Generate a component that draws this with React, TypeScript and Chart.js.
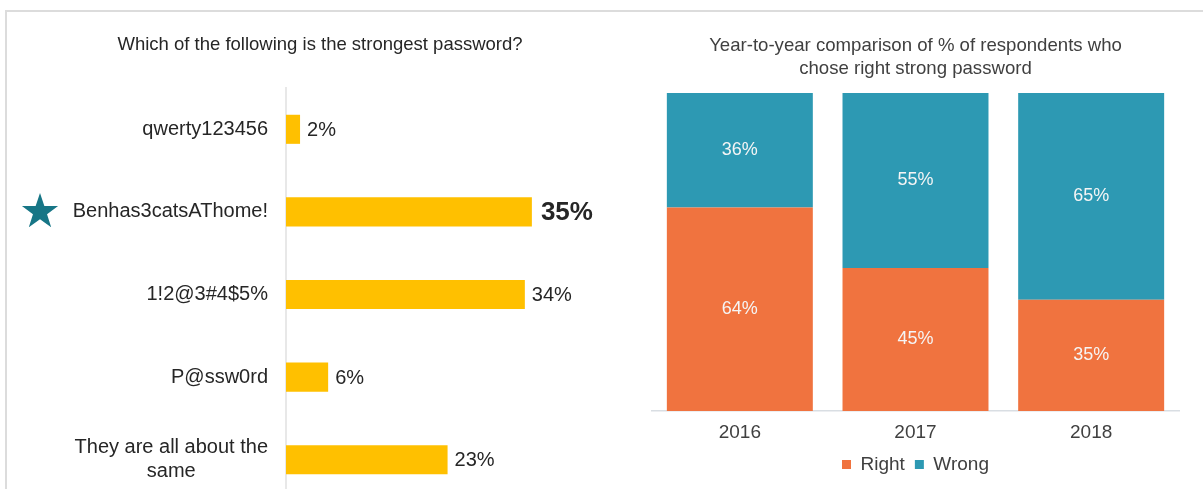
import React, { useEffect, useRef } from "react";
import { Chart, registerables } from "chart.js";

Chart.register(...registerables);

// ---------- data ----------
const leftTitle = "Which of the following is the strongest password?";
const passwordOptions: (string | string[])[] = [
  "qwerty123456",
  "Benhas3catsAThome!",
  "1!2@3#4$5%",
  "P@ssw0rd",
  ["They are all about the", "same"],
];
const passwordShares = [2, 35, 34, 6, 23];
const correctIndex = 1;

const rightTitle = ["Year-to-year comparison of % of respondents who", "chose right strong password"];
const years = ["2016", "2017", "2018"];
const rightShares = [64, 45, 35];
const wrongShares = [36, 55, 65];
const seriesNames = ["Right", "Wrong"];

// ---------- styles ----------
const FONT = '"Liberation Sans", Arial, Helvetica, sans-serif';
const YELLOW = "#FFC000";
const ORANGE = "#F0733F";
const TEAL = "#2D99B3";
const STAR = "#177686";
const DARK = "#262626";
const GREY_TEXT = "#404040";

function drawStar(ctx: CanvasRenderingContext2D, cx: number, cy: number, R: number, r: number) {
  ctx.beginPath();
  for (let i = 0; i < 10; i++) {
    const rad = i % 2 === 0 ? R : r;
    const a = -Math.PI / 2 + (i * Math.PI) / 5;
    const x = cx + rad * Math.cos(a);
    const y = cy + rad * Math.sin(a);
    if (i === 0) ctx.moveTo(x, y);
    else ctx.lineTo(x, y);
  }
  ctx.closePath();
  ctx.fill();
}

const leftLabelsPlugin = {
  id: "leftLabels",
  afterDraw(chart: any) {
    const { ctx, chartArea } = chart;
    const yScale = chart.scales.y;
    const meta = chart.getDatasetMeta(0);
    ctx.save();
    ctx.fillStyle = DARK;
    ctx.textBaseline = "middle";
    ctx.font = `20px ${FONT}`;
    const right = chartArea.left - 18;
    passwordOptions.forEach((lab, i) => {
      const y = yScale.getPixelForValue(i);
      if (Array.isArray(lab)) {
        const w = Math.max(...lab.map((l) => ctx.measureText(l).width));
        ctx.textAlign = "center";
        lab.forEach((l, j) => ctx.fillText(l, right - w / 2, y + (j - (lab.length - 1) / 2) * 24));
      } else {
        ctx.textAlign = "right";
        ctx.fillText(lab, right, y);
      }
    });
    // star marking the correct answer
    ctx.fillStyle = STAR;
    drawStar(ctx, 40, yScale.getPixelForValue(correctIndex), 19, 7.4);
    // value labels
    ctx.fillStyle = DARK;
    ctx.textAlign = "left";
    meta.data.forEach((bar: any, i: number) => {
      const strong = i === correctIndex;
      ctx.font = strong ? `bold 26px ${FONT}` : `20px ${FONT}`;
      ctx.fillText(passwordShares[i] + "%", bar.x + (strong ? 9 : 7), bar.y + 1);
    });
    ctx.restore();
  },
};

const stackLabelsPlugin = {
  id: "stackLabels",
  afterDatasetsDraw(chart: any) {
    const { ctx } = chart;
    ctx.save();
    ctx.fillStyle = "#f5f5f5";
    ctx.font = `18px ${FONT}`;
    ctx.textAlign = "center";
    ctx.textBaseline = "middle";
    chart.data.datasets.forEach((ds: any, di: number) => {
      const meta = chart.getDatasetMeta(di);
      meta.data.forEach((bar: any, i: number) => {
        const cy = (bar.y + bar.base) / 2;
        ctx.fillText(ds.data[i] + "%", bar.x, cy);
      });
    });
    ctx.restore();
  },
};

export default function App() {
  const leftRef = useRef<HTMLCanvasElement | null>(null);
  const rightRef = useRef<HTMLCanvasElement | null>(null);

  useEffect(() => {
    const left = new Chart(leftRef.current as HTMLCanvasElement, {
      type: "bar",
      data: {
        labels: passwordOptions as any,
        datasets: [
          {
            data: passwordShares,
            backgroundColor: YELLOW,
            borderWidth: 0,
            barPercentage: 0.352,
            categoryPercentage: 1,
          },
        ],
      },
      options: {
        indexAxis: "y",
        responsive: false,
        animation: false,
        layout: { padding: { left: 73, right: 73, top: 0, bottom: 0 } },
        plugins: {
          legend: { display: false },
          tooltip: { enabled: false },
          title: {
            display: true,
            text: leftTitle,
            color: DARK,
            font: { family: FONT, size: 18.5, weight: "normal", lineHeight: 1.2 },
            padding: { top: 34, bottom: 31.8 },
          },
        },
        scales: {
          x: { display: false, min: 0, max: 40 },
          y: {
            afterFit: (s: any) => {
              s.width = 213;
            },
            ticks: { display: false },
            grid: { display: false, drawTicks: false },
            border: { display: true, color: "#e8e8e8", width: 2 },
          },
        },
      } as any,
      plugins: [leftLabelsPlugin],
    });

    const right = new Chart(rightRef.current as HTMLCanvasElement, {
      type: "bar",
      data: {
        labels: years,
        datasets: [
          {
            label: seriesNames[0],
            data: rightShares,
            backgroundColor: ORANGE,
            borderWidth: 0,
            barPercentage: 0.831,
            categoryPercentage: 1,
          },
          {
            label: seriesNames[1],
            data: wrongShares,
            backgroundColor: TEAL,
            borderWidth: 0,
            barPercentage: 0.831,
            categoryPercentage: 1,
          },
        ],
      },
      options: {
        responsive: false,
        animation: false,
        layout: { padding: { left: 12, right: 11, top: 0, bottom: 5 } },
        plugins: {
          tooltip: { enabled: false },
          title: {
            display: true,
            text: rightTitle,
            color: GREY_TEXT,
            font: { family: FONT, size: 18.6, weight: "normal", lineHeight: 1.2 },
            padding: { top: 35, bottom: 13.4 },
          },
          legend: {
            position: "bottom",
            labels: {
              boxWidth: 9,
              boxHeight: 9,
              color: GREY_TEXT,
              font: { family: FONT, size: 19 },
              padding: 10,
            },
          },
        },
        scales: {
          x: {
            stacked: true,
            grid: { display: false, drawTicks: false },
            border: { display: true, color: "#d9dee3", width: 1.5 },
            ticks: { color: GREY_TEXT, font: { family: FONT, size: 19 }, padding: 10 },
            afterFit: (s: any) => {
              s.height = 34;
            },
          },
          y: { stacked: true, display: false, min: 0, max: 100 },
        },
      } as any,
      plugins: [stackLabelsPlugin],
    });

    return () => {
      left.destroy();
      right.destroy();
    };
  }, []);

  return (
    <div
      style={{
        position: "absolute",
        left: 0,
        top: 0,
        width: 1203,
        height: 489,
        overflow: "hidden",
        background: "#ffffff",
      }}
    >
      <div
        style={{
          position: "absolute",
          left: 5,
          top: 10,
          width: 1203,
          height: 489,
          borderTop: "2px solid #dcdcdc",
          borderLeft: "2px solid #dcdcdc",
        }}
      />
      <canvas
        ref={leftRef}
        width={640}
        height={501}
        style={{ position: "absolute", left: 0, top: 0, width: 640, height: 501 }}
      />
      <canvas
        ref={rightRef}
        width={550}
        height={489}
        style={{ position: "absolute", left: 640, top: 0, width: 550, height: 489 }}
      />
    </div>
  );
}
